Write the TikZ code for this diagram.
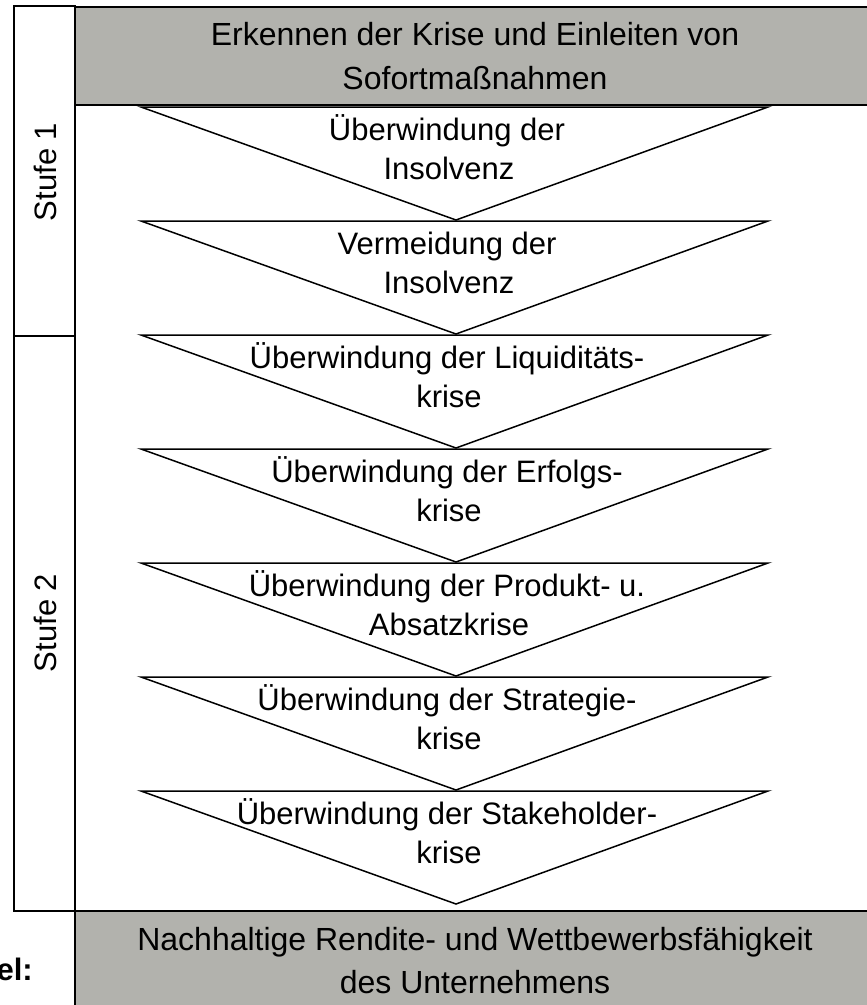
\documentclass[tikz,border=0pt]{standalone}
\usepackage{fontspec}
\setmainfont{Liberation Sans}
\definecolor{boxgray}{RGB}{178,178,173}
\begin{document}
\begin{tikzpicture}[x=1pt,y=-1pt,
  lw/.style={line width=1.5pt},
  txt/.style={anchor=base,inner sep=0pt,font=\fontsize{31}{39}\selectfont},
  boxtxt/.style={anchor=base,inner sep=0pt,font=\fontsize{32}{40}\selectfont},
  stufe/.style={rotate=90,inner sep=0pt,font=\fontsize{31}{39}\selectfont}]
\useasboundingbox (0,0) rectangle (867,1005);
% Stufe column
\draw[lw] (14,6) rectangle (75,911);
\draw[lw] (14,336) -- (75,336);
\node[stufe] (s1) at (45,172) {Stufe 1};
\node[stufe] (s2) at (45,623) {Stufe 2};
% main left border
\draw[lw] (75,105) -- (75,911);
% top gray box
\fill[boxgray] (75,7) rectangle (867,105);
\draw[lw] (867,7) -- (75,7) -- (75,105);
\draw[line width=2.4pt] (75,105) -- (867,105);
\node[boxtxt] (top1) at (475,45) {Erkennen der Krise und Einleiten von};
\node[boxtxt] (top2) at (475,89) {Sofortmaßnahmen};
% bottom gray box
\fill[boxgray] (75,911) rectangle (867,1005);
\draw[lw] (867,911) -- (75,911) -- (75,1005);
\node[boxtxt] (bot1) at (475,950) {Nachhaltige Rendite- und Wettbewerbsfähigkeit};
\node[boxtxt] (bot2) at (475,993) {des Unternehmens};
\node[anchor=base east,inner sep=0pt,font=\fontsize{31}{39}\selectfont\bfseries] (ziel) at (33,980) {el:};
% triangles
\foreach \i/\la/\lb in {0/{Überwindung der}/{Insolvenz},
                        1/{Vermeidung der}/{Insolvenz},
                        2/{Überwindung der Liquiditäts-}/{krise},
                        3/{Überwindung der Erfolgs-}/{krise},
                        4/{Überwindung der Produkt- u.}/{Absatzkrise},
                        5/{Überwindung der Strategie-}/{krise},
                        6/{Überwindung der Stakeholder-}/{krise}}{
  \pgfmathsetmacro{\ty}{107+114*\i}
  \coordinate (l\i) at (141,\ty);
  \coordinate (r\i) at (768,\ty);
  \coordinate (a\i) at (456,\ty+113);
  \draw[lw,line join=miter] (l\i) -- (r\i) -- (a\i) -- cycle;
  \node[txt] (la\i) at (447,\ty+33) {\la};
  \node[txt] (lb\i) at (449,\ty+72) {\lb};
}
\end{tikzpicture}
\end{document}
